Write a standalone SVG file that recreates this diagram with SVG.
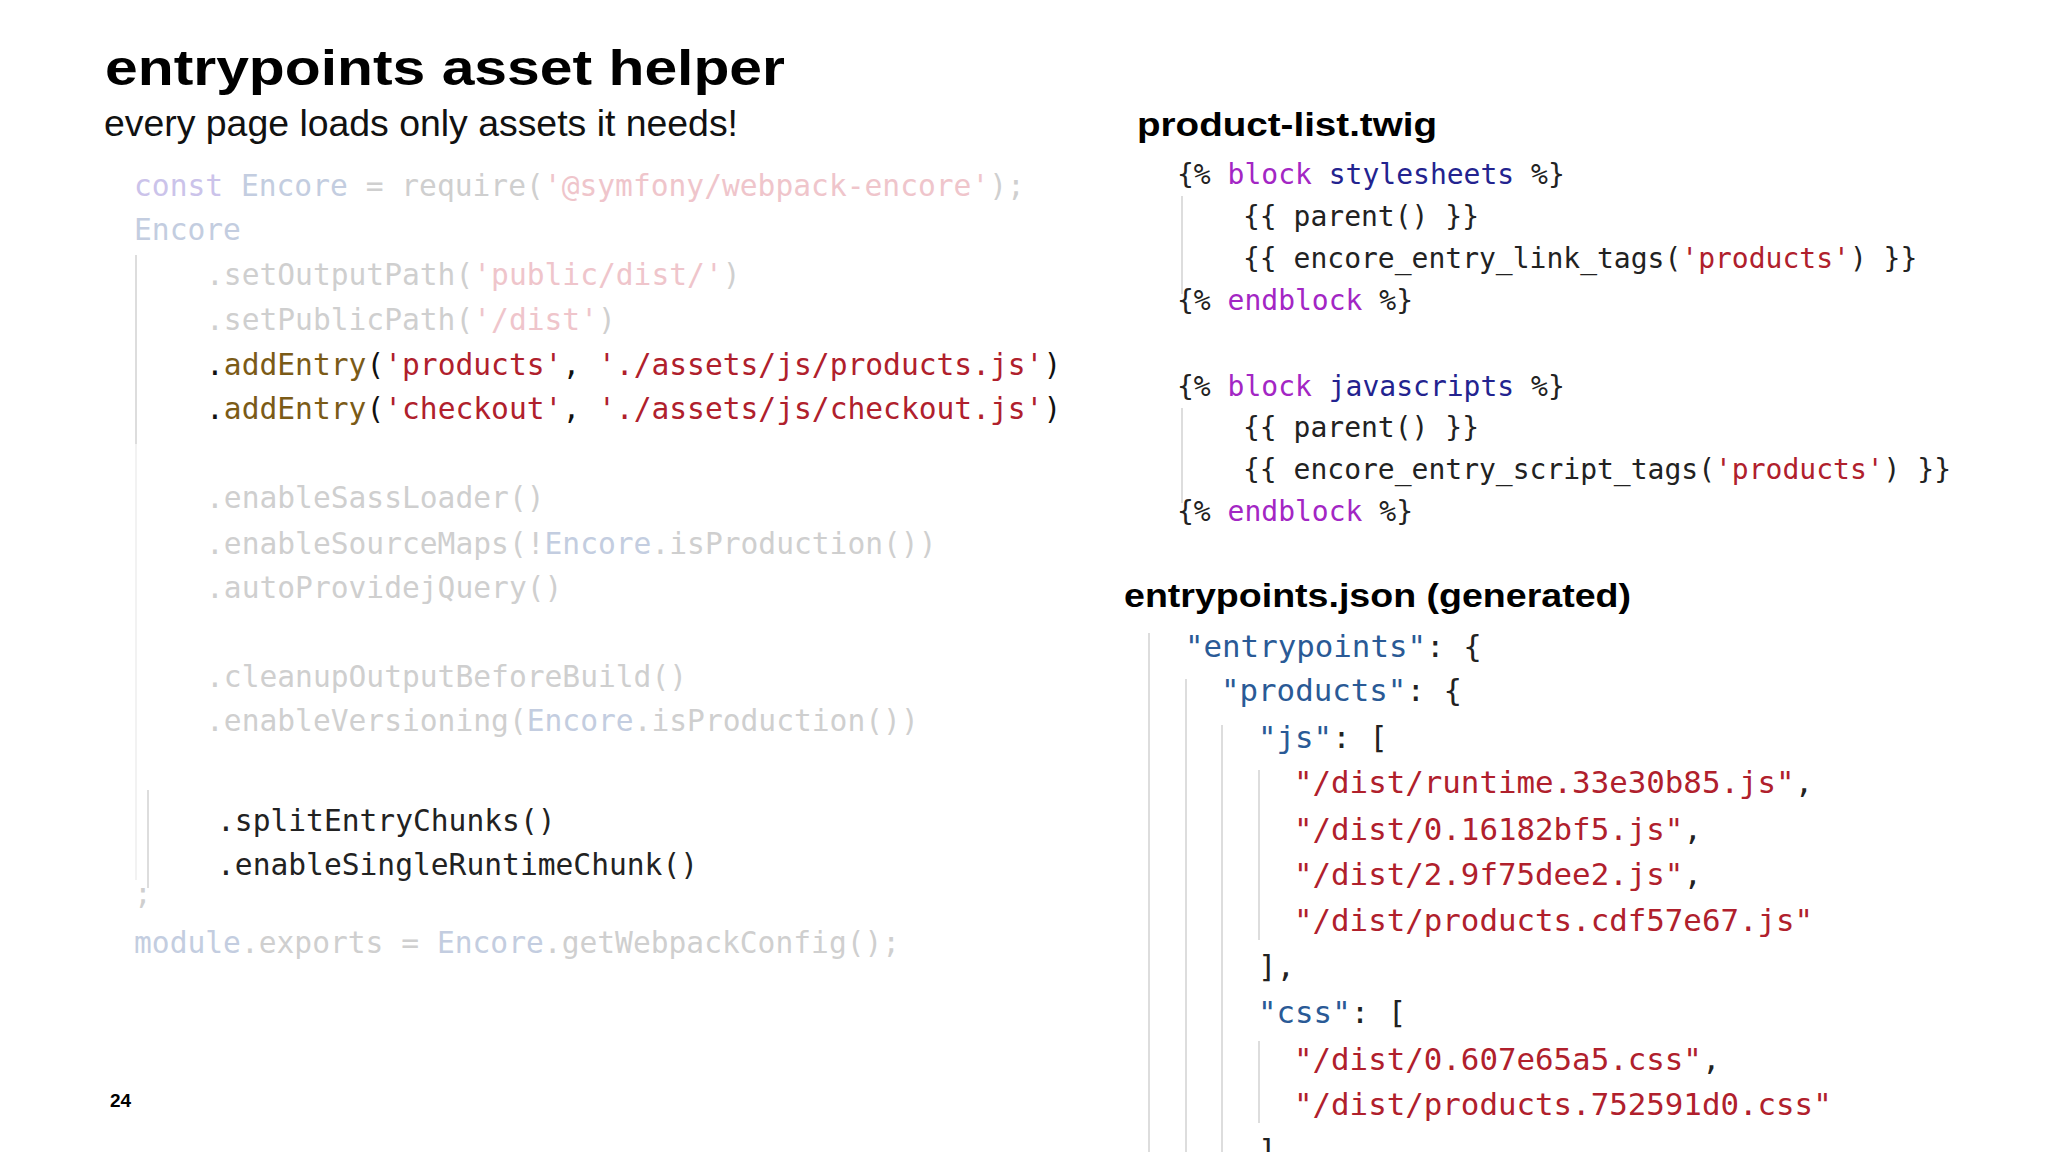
<svg xmlns="http://www.w3.org/2000/svg" width="2048" height="1152" viewBox="0 0 2048 1152">
<style>
.h{font-family:"Liberation Sans",Arial,sans-serif;font-weight:bold;fill:#000}
.c{font-family:"DejaVu Sans Mono","Liberation Mono",monospace;font-size:29.6px;white-space:pre}
.t{font-family:"DejaVu Sans Mono","Liberation Mono",monospace;font-size:28px;white-space:pre;fill:#222}
.j{font-family:"DejaVu Sans Mono","Liberation Mono",monospace;font-size:30.8px;white-space:pre;fill:#222}
.fk{fill:#cbc3ea}.fe{fill:#c3cde0}.fs{fill:#efc5cb}.fm{fill:#cfcfcf}
.m{fill:#7b5b17}.s{fill:#b0202c}.k{fill:#a326c4}.b{fill:#23238f}.jk{fill:#2a5a96}
.v{stroke:#ddd;stroke-width:2}
</style>
<rect width="2048" height="1152" fill="#fff"/>
<g id="title">
<text class="h" x="105" y="85" font-size="50" textLength="680" lengthAdjust="spacingAndGlyphs">entrypoints asset helper</text>
<text x="104" y="136" font-family="Liberation Sans,Arial,sans-serif" font-size="36" fill="#111" textLength="634" lengthAdjust="spacingAndGlyphs">every page loads only assets it needs!</text>
</g>
<g id="webpack-config">
<line class="v" x1="136" y1="255" x2="136" y2="444"/>
<line x1="136" y1="444" x2="136" y2="880" stroke="#f2f2f2" stroke-width="2"/>
<line class="v" x1="148" y1="790" x2="148" y2="888"/>
<text class="c" x="134" y="196"><tspan class="fk">const</tspan><tspan class="fe"> Encore </tspan><tspan class="fm">= require(</tspan><tspan class="fs">'@symfony/webpack-encore'</tspan><tspan class="fm">);</tspan></text>
<text class="c fe" x="134" y="240">Encore</text>
<text class="c" x="206" y="285"><tspan class="fm">.setOutputPath(</tspan><tspan class="fs">'public/dist/'</tspan><tspan class="fm">)</tspan></text>
<text class="c" x="206" y="330"><tspan class="fm">.setPublicPath(</tspan><tspan class="fs">'/dist'</tspan><tspan class="fm">)</tspan></text>
<text class="c" x="206" y="375" fill="#111">.<tspan class="m">addEntry</tspan>(<tspan class="s">'products'</tspan>, <tspan class="s">'./assets/js/products.js'</tspan>)</text>
<text class="c" x="206" y="419" fill="#111">.<tspan class="m">addEntry</tspan>(<tspan class="s">'checkout'</tspan>, <tspan class="s">'./assets/js/checkout.js'</tspan>)</text>
<text class="c fm" x="206" y="508">.enableSassLoader()</text>
<text class="c fm" x="206" y="554">.enableSourceMaps(!<tspan class="fe">Encore</tspan>.isProduction())</text>
<text class="c fm" x="206" y="598">.autoProvidejQuery()</text>
<text class="c fm" x="206" y="687">.cleanupOutputBeforeBuild()</text>
<text class="c fm" x="206" y="731">.enableVersioning(<tspan class="fe">Encore</tspan>.isProduction())</text>
<text class="c" x="217" y="831" fill="#222">.splitEntryChunks()</text>
<text class="c" x="217" y="875" fill="#222">.enableSingleRuntimeChunk()</text>
<text class="c fm" x="134" y="904">;</text>
<text class="c" x="134" y="953"><tspan class="fe">module</tspan><tspan class="fm">.exports = </tspan><tspan class="fe">Encore</tspan><tspan class="fm">.getWebpackConfig();</tspan></text>
</g>
<g id="twig">
<text class="h" x="1137" y="136" font-size="34" textLength="300" lengthAdjust="spacingAndGlyphs">product-list.twig</text>
<line class="v" x1="1182" y1="196" x2="1182" y2="294"/>
<line class="v" x1="1182" y1="408" x2="1182" y2="503"/>
<text class="t" x="1177" y="184">{% <tspan class="k">block</tspan> <tspan class="b">stylesheets</tspan> %}</text>
<text class="t" x="1243" y="226">{{ parent() }}</text>
<text class="t" x="1243" y="268">{{ encore_entry_link_tags(<tspan class="s">'products'</tspan>) }}</text>
<text class="t" x="1177" y="310">{% <tspan class="k">endblock</tspan> %}</text>
<text class="t" x="1177" y="396">{% <tspan class="k">block</tspan> <tspan class="b">javascripts</tspan> %}</text>
<text class="t" x="1243" y="437">{{ parent() }}</text>
<text class="t" x="1243" y="479">{{ encore_entry_script_tags(<tspan class="s">'products'</tspan>) }}</text>
<text class="t" x="1177" y="521">{% <tspan class="k">endblock</tspan> %}</text>
</g>
<g id="json">
<text class="h" x="1124" y="607" font-size="34" textLength="507" lengthAdjust="spacingAndGlyphs">entrypoints.json (generated)</text>
<line class="v" x1="1149" y1="633" x2="1149" y2="1152"/>
<line class="v" x1="1186" y1="679" x2="1186" y2="1152"/>
<line class="v" x1="1222" y1="725" x2="1222" y2="1152"/>
<line class="v" x1="1259" y1="770" x2="1259" y2="940"/>
<line class="v" x1="1259" y1="1041" x2="1259" y2="1123"/>
<text class="j" x="1185" y="657"><tspan class="jk">"entrypoints"</tspan>: {</text>
<text class="j" x="1221" y="701"><tspan class="jk">"products"</tspan>: {</text>
<text class="j" x="1258" y="748"><tspan class="jk">"js"</tspan>: [</text>
<text class="j" x="1294" y="793"><tspan class="s">"/dist/runtime.33e30b85.js"</tspan>,</text>
<text class="j" x="1294" y="840"><tspan class="s">"/dist/0.16182bf5.js"</tspan>,</text>
<text class="j" x="1294" y="885"><tspan class="s">"/dist/2.9f75dee2.js"</tspan>,</text>
<text class="j" x="1294" y="931"><tspan class="s">"/dist/products.cdf57e67.js"</tspan></text>
<text class="j" x="1258" y="977">],</text>
<text class="j" x="1258" y="1023"><tspan class="jk">"css"</tspan>: [</text>
<text class="j" x="1294" y="1070"><tspan class="s">"/dist/0.607e65a5.css"</tspan>,</text>
<text class="j" x="1294" y="1115"><tspan class="s">"/dist/products.752591d0.css"</tspan></text>
<text class="j" x="1258" y="1161">]</text>
</g>
<g id="page"><text class="h" x="110" y="1107" font-size="19">24</text></g>
</svg>
